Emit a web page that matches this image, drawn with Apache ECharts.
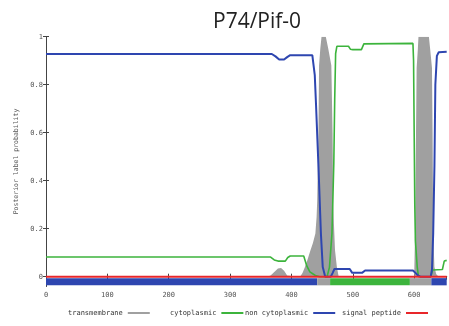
<!DOCTYPE html>
<html>
<head>
<meta charset="utf-8">
<script src="https://cdn.jsdelivr.net/npm/echarts@6/dist/echarts.min.js"></script>
<style>
  html, body { margin: 0; padding: 0; background: #fff; }
  #chart { width: 449px; height: 326px; }
</style>
</head>
<body>
<div id="chart"></div>
<script>
// Posterior label probabilities along the sequence (residue position -> probability)
const seqLength = 653;

const tmPos = [0, 360, 366, 372, 378, 383, 388, 393, 396, 414, 418, 422, 426, 431, 435, 439, 441, 442, 444, 445, 447, 449, 456, 460, 465, 467, 468, 471, 474, 477,
               600, 601.5, 603, 604, 606, 607, 624, 626, 629, 630, 631, 633, 636, 640, 653];
const tmProb = [0, 0, 0.005, 0.02, 0.034, 0.036, 0.025, 0.005, 0, 0, 0.015, 0.04, 0.07, 0.11, 0.14, 0.18, 0.25, 0.32, 0.6, 0.88, 0.95, 1.0, 1.0, 0.95, 0.88, 0.6, 0.3, 0.11, 0.04, 0,
                0, 0.2, 0.6, 0.87, 0.95, 1.0, 1.0, 0.95, 0.87, 0.6, 0.18, 0.04, 0.01, 0, 0];

const cytoPos = [0, 366, 372, 378, 390, 394, 398, 420, 422, 425, 430, 439, 446, 458, 462, 466, 469, 470.5, 472, 474, 493, 496, 500, 514, 518, 521,
                 598, 599, 600, 601, 602, 605, 607, 627, 630, 646, 649, 653];
const cytoProb = [0.082, 0.082, 0.07, 0.065, 0.065, 0.08, 0.086, 0.086, 0.08, 0.045, 0.02, 0.005, 0, 0, 0.04, 0.18, 0.47, 0.74, 0.93, 0.96, 0.96, 0.948, 0.946, 0.946, 0.97, 0.972,
                  0.972, 0.9, 0.6, 0.3, 0.15, 0.04, 0, 0, 0.028, 0.03, 0.065, 0.068];

const nonCytoPos = [0, 368, 374, 380, 388, 393, 398, 434, 436, 438, 440, 444, 448, 451, 455, 464, 467, 470, 495, 499, 515, 520,
                    598, 602, 606, 610, 627, 629, 631, 633, 634.5, 637, 640, 653];
const nonCytoProb = [0.928, 0.928, 0.918, 0.905, 0.905, 0.915, 0.923, 0.923, 0.915, 0.84, 0.72, 0.46, 0.18, 0.04, 0, 0, 0.015, 0.032, 0.032, 0.016, 0.016, 0.026,
                     0.026, 0.016, 0.006, 0, 0, 0.03, 0.18, 0.46, 0.8, 0.92, 0.935, 0.937];

const sigPos = [0, 653];
const sigProb = [0, 0];

// Predicted topology segments shown as the strip under the curves
const bandStart = [0, 442, 463, 593, 628];
const bandEnd = [442, 463, 593, 628, 653];
const bandKind = ['non cytoplasmic', 'transmembrane', 'cytoplasmic', 'transmembrane', 'non cytoplasmic'];

const yTicks = [0, 0.2, 0.4, 0.6, 0.8, 1];
const legendNames = ['transmembrane', 'cytoplasmic', 'non cytoplasmic', 'signal peptide'];

const colors = {
  'transmembrane': '#a0a0a0',
  'cytoplasmic': '#3cb43c',
  'non cytoplasmic': '#2e46b0',
  'signal peptide': '#e8262a'
};

const zip = (xs, ys) => xs.map((x, i) => [x, ys[i]]);

const mono = 'DejaVu Sans Mono';
const legendLeft = [68, 170, 245, 342];

const chart = echarts.init(document.getElementById('chart'), null, { renderer: 'canvas' });

chart.setOption({
  animation: false,
  title: {
    text: 'P74/Pif-0',
    left: 208,
    top: 7,
    textStyle: { fontFamily: 'Open Sans', fontSize: 21, fontWeight: 'normal', color: '#222' }
  },
  legend: legendNames.map((n, i) => ({
    data: [{ name: n, icon: 'rect', itemStyle: { color: colors[n] } }],
    left: legendLeft[i],
    top: 309.5,
    align: 'right',
    itemWidth: 22,
    itemHeight: 2,
    padding: 0,
    selectedMode: false,
    textStyle: { fontFamily: mono, fontSize: 7, color: '#333' }
  })),
  grid: { left: 46, right: 2.3, top: 36.7, bottom: 39.7 },
  xAxis: [{
    type: 'value', min: 0, max: seqLength, interval: 100,
    axisLine: { show: true, lineStyle: { color: '#444', width: 1 } },
    axisTick: { show: true, inside: true, length: 3, lineStyle: { color: '#444' } },
    axisLabel: { fontFamily: mono, fontSize: 7, color: '#555', margin: 5, showMaxLabel: false },
    splitLine: { show: false }
  }, {
    type: 'value', position: 'top', min: 0, max: seqLength, interval: 100,
    axisLine: { show: true, lineStyle: { color: '#444', width: 1 } },
    axisTick: { show: true, inside: true, length: 3, lineStyle: { color: '#444' } },
    axisLabel: { show: false },
    splitLine: { show: false }
  }],
  yAxis: [{
    type: 'value', min: -0.04, max: 1,
    name: 'Posterior label probability',
    nameLocation: 'middle', nameGap: 26,
    nameTextStyle: { fontFamily: mono, fontSize: 6.5, color: '#555' },
    axisLine: { show: true, lineStyle: { color: '#444', width: 1 } },
    axisTick: { show: true, inside: true, length: 3, customValues: yTicks, lineStyle: { color: '#444' } },
    axisLabel: { fontFamily: mono, fontSize: 7, color: '#555', margin: 3, customValues: yTicks,
                 formatter: v => String(Math.round(v * 10) / 10) },
    splitLine: { show: false }
  }, {
    type: 'value', position: 'right', min: -0.04, max: 1,
    axisLine: { show: true, lineStyle: { color: '#444', width: 1 } },
    axisTick: { show: true, inside: true, length: 3, customValues: yTicks, lineStyle: { color: '#444' } },
    axisLabel: { show: false },
    splitLine: { show: false }
  }],
  series: [
    {
      name: 'transmembrane', type: 'line', data: zip(tmPos, tmProb),
      showSymbol: false, z: 1,
      lineStyle: { width: 0, color: colors['transmembrane'] },
      itemStyle: { color: colors['transmembrane'] },
      areaStyle: { color: colors['transmembrane'], opacity: 1, origin: 0 }
    },
    {
      name: 'topology', type: 'custom', z: 2,
      data: bandStart.map((s, i) => [s, bandEnd[i], i]),
      renderItem: (params, api) => {
        const p0 = api.coord([api.value(0), -0.006]);
        const p1 = api.coord([api.value(1), -0.036]);
        return {
          type: 'rect',
          shape: { x: p0[0], y: p0[1], width: p1[0] - p0[0], height: p1[1] - p0[1] },
          style: { fill: colors[bandKind[api.value(2)]] }
        };
      },
      encode: { x: [0, 1] }
    },
    {
      name: 'cytoplasmic', type: 'line', data: zip(cytoPos, cytoProb),
      showSymbol: false, z: 3,
      lineStyle: { width: 1.6, color: colors['cytoplasmic'] },
      itemStyle: { color: colors['cytoplasmic'] }
    },
    {
      name: 'non cytoplasmic', type: 'line', data: zip(nonCytoPos, nonCytoProb),
      showSymbol: false, z: 4,
      lineStyle: { width: 2, color: colors['non cytoplasmic'] },
      itemStyle: { color: colors['non cytoplasmic'] }
    },
    {
      name: 'signal peptide', type: 'line', data: zip(sigPos, sigProb),
      showSymbol: false, z: 5,
      lineStyle: { width: 2, color: colors['signal peptide'] },
      itemStyle: { color: colors['signal peptide'] }
    }
  ]
});
</script>
</body>
</html>
